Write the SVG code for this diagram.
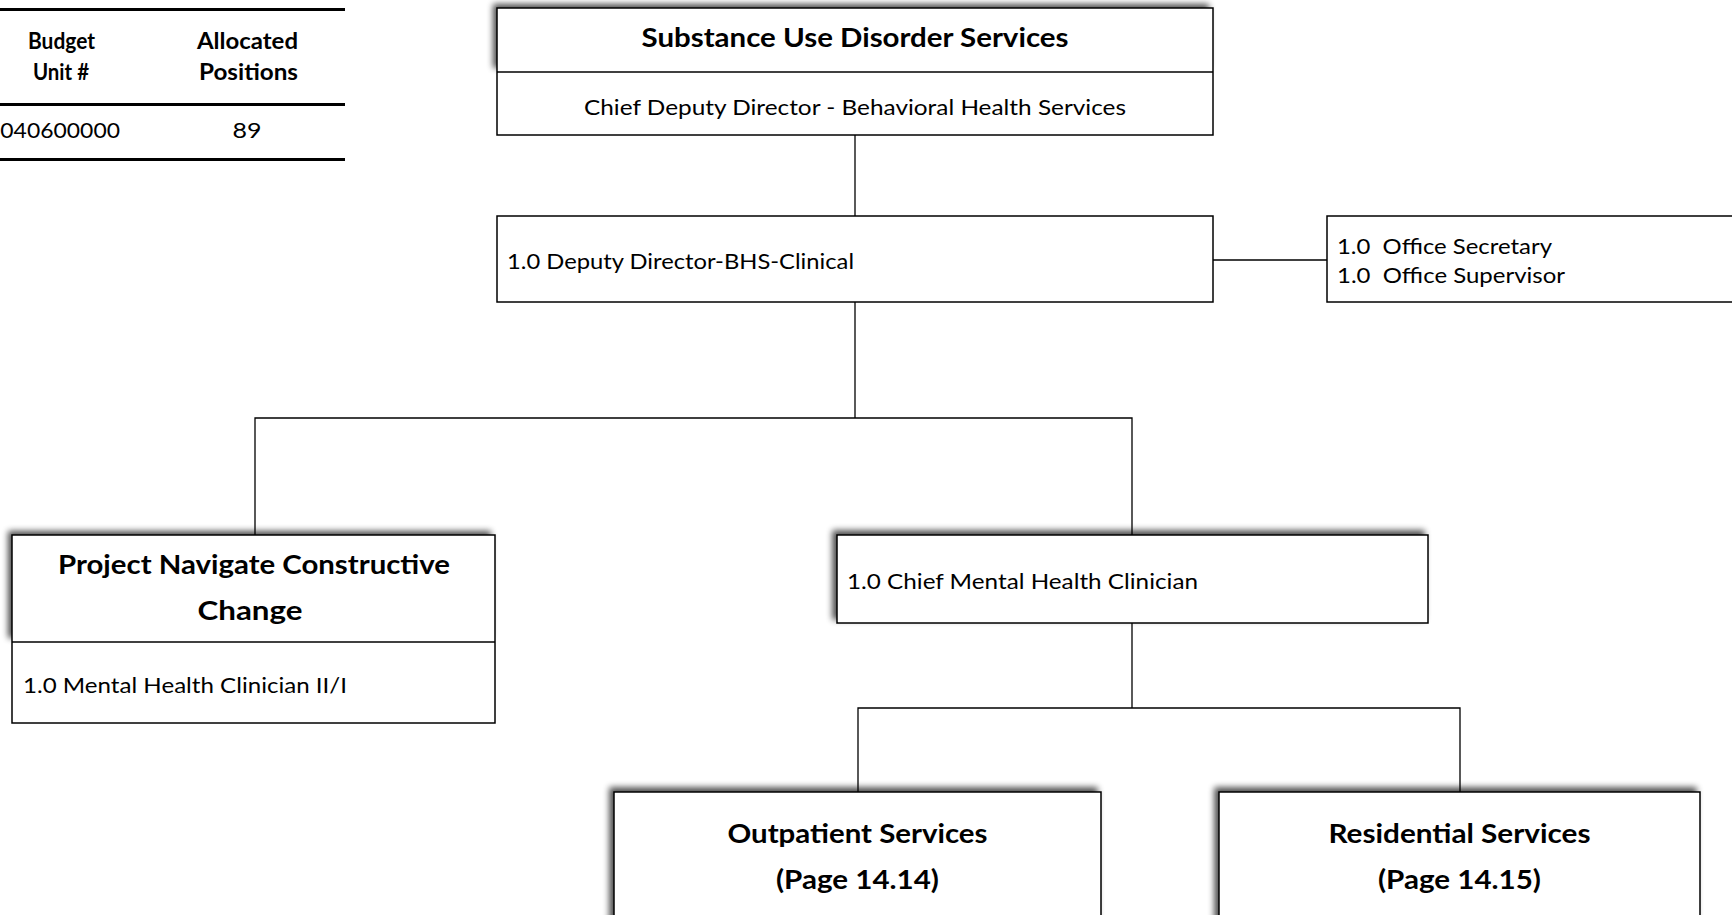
<svg xmlns="http://www.w3.org/2000/svg" width="1732" height="915" viewBox="0 0 1732 915">
<style>
.box{fill:#fff;stroke:#000;stroke-width:1.5}
.shd{fill:#fff;stroke:none}
.conn{stroke:#000;stroke-width:1.3;fill:none}
.rule{stroke:#000;stroke-width:3}
.t{font-family:Lato,Carlito,"Liberation Sans",sans-serif;font-size:22px;fill:#000}
.b{font-weight:bold}
.tb{font-size:22px}
.h1{font-size:26px}
.h2{font-size:27px}
.m{text-anchor:middle}
</style>
<defs>
<filter id="sh" x="-10%" y="-40%" width="120%" height="180%">
<feGaussianBlur in="SourceAlpha" stdDeviation="3"/>
<feOffset dx="-4" dy="-4" result="o"/>
<feComponentTransfer><feFuncA type="linear" slope="0.7"/></feComponentTransfer>
<feMerge><feMergeNode/><feMergeNode in="SourceGraphic"/></feMerge>
</filter>
</defs>
<rect width="1732" height="915" fill="#fff"/>

<g id="budget-table">
<line class="rule" x1="0" y1="9.5" x2="345" y2="9.5"/>
<line class="rule" x1="0" y1="104.5" x2="345" y2="104.5"/>
<line class="rule" x1="0" y1="159.5" x2="345" y2="159.5"/>
<text class="t b tb m" x="61.5" y="49" textLength="67" lengthAdjust="spacingAndGlyphs">Budget</text>
<text class="t b tb m" x="61" y="80" textLength="56" lengthAdjust="spacingAndGlyphs">Unit #</text>
<text class="t b tb m" x="247.5" y="49" textLength="101" lengthAdjust="spacingAndGlyphs">Allocated</text>
<text class="t b tb m" x="248.5" y="80" textLength="99" lengthAdjust="spacingAndGlyphs">Positions</text>
<text class="t" x="-13" y="138" textLength="133" lengthAdjust="spacingAndGlyphs">4040600000</text>
<text class="t m" x="247" y="138" textLength="29" lengthAdjust="spacingAndGlyphs">89</text>
</g>

<g id="connectors">
<line class="conn" x1="855" y1="135" x2="855" y2="216"/>
<line class="conn" x1="1213" y1="260" x2="1327" y2="260"/>
<polyline class="conn" points="855,302 855,418"/>
<polyline class="conn" points="255,535 255,418 1132,418 1132,535"/>
<polyline class="conn" points="1132,623 1132,708"/>
<polyline class="conn" points="858,792 858,708 1460,708 1460,792"/>
</g>

<g id="n-sud">
<rect class="shd" x="497" y="8" width="716" height="64" filter="url(#sh)"/>
<rect class="box" x="497" y="8" width="716" height="127"/>
<line class="box" x1="497" y1="72" x2="1213" y2="72"/>
<text class="t b h1 m" x="855" y="47" textLength="427" lengthAdjust="spacingAndGlyphs">Substance Use Disorder Services</text>
<text class="t m" x="855" y="115" textLength="542" lengthAdjust="spacingAndGlyphs">Chief Deputy Director - Behavioral Health Services</text>
</g>

<g id="n-deputy">
<rect class="box" x="497" y="216" width="716" height="86"/>
<text class="t" x="507" y="269" textLength="347" lengthAdjust="spacingAndGlyphs">1.0 Deputy Director-BHS-Clinical</text>
</g>

<g id="n-office">
<rect class="box" x="1327" y="216" width="440" height="86"/>
<text class="t" x="1337" y="254" xml:space="preserve" textLength="215" lengthAdjust="spacingAndGlyphs">1.0  Office Secretary</text>
<text class="t" x="1337" y="283" xml:space="preserve" textLength="228" lengthAdjust="spacingAndGlyphs">1.0  Office Supervisor</text>
</g>

<g id="n-project">
<rect class="shd" x="12" y="535" width="483" height="107" filter="url(#sh)"/>
<rect class="box" x="12" y="535" width="483" height="188"/>
<line class="box" x1="12" y1="642" x2="495" y2="642"/>
<text class="t b h1 m" x="254" y="574" textLength="392" lengthAdjust="spacingAndGlyphs">Project Navigate Constructive</text>
<text class="t b h1 m" x="250" y="620" textLength="105" lengthAdjust="spacingAndGlyphs">Change</text>
<text class="t" x="23" y="693" textLength="324" lengthAdjust="spacingAndGlyphs">1.0 Mental Health Clinician II/I</text>
</g>

<g id="n-chief-mhc">
<rect class="box" x="837" y="535" width="591" height="88" filter="url(#sh)"/>
<text class="t" x="847" y="589" textLength="351" lengthAdjust="spacingAndGlyphs">1.0 Chief Mental Health Clinician</text>
</g>

<g id="n-outpatient">
<rect class="box" x="614" y="792" width="487" height="160" filter="url(#sh)"/>
<text class="t b h2 m" x="857.5" y="843" textLength="260" lengthAdjust="spacingAndGlyphs">Outpatient Services</text>
<text class="t b h2 m" x="857.5" y="889" textLength="163" lengthAdjust="spacingAndGlyphs">(Page 14.14)</text>
</g>

<g id="n-residential">
<rect class="box" x="1219" y="792" width="481" height="160" filter="url(#sh)"/>
<text class="t b h2 m" x="1459.5" y="843" textLength="262" lengthAdjust="spacingAndGlyphs">Residential Services</text>
<text class="t b h2 m" x="1459.5" y="889" textLength="163" lengthAdjust="spacingAndGlyphs">(Page 14.15)</text>
</g>
</svg>
